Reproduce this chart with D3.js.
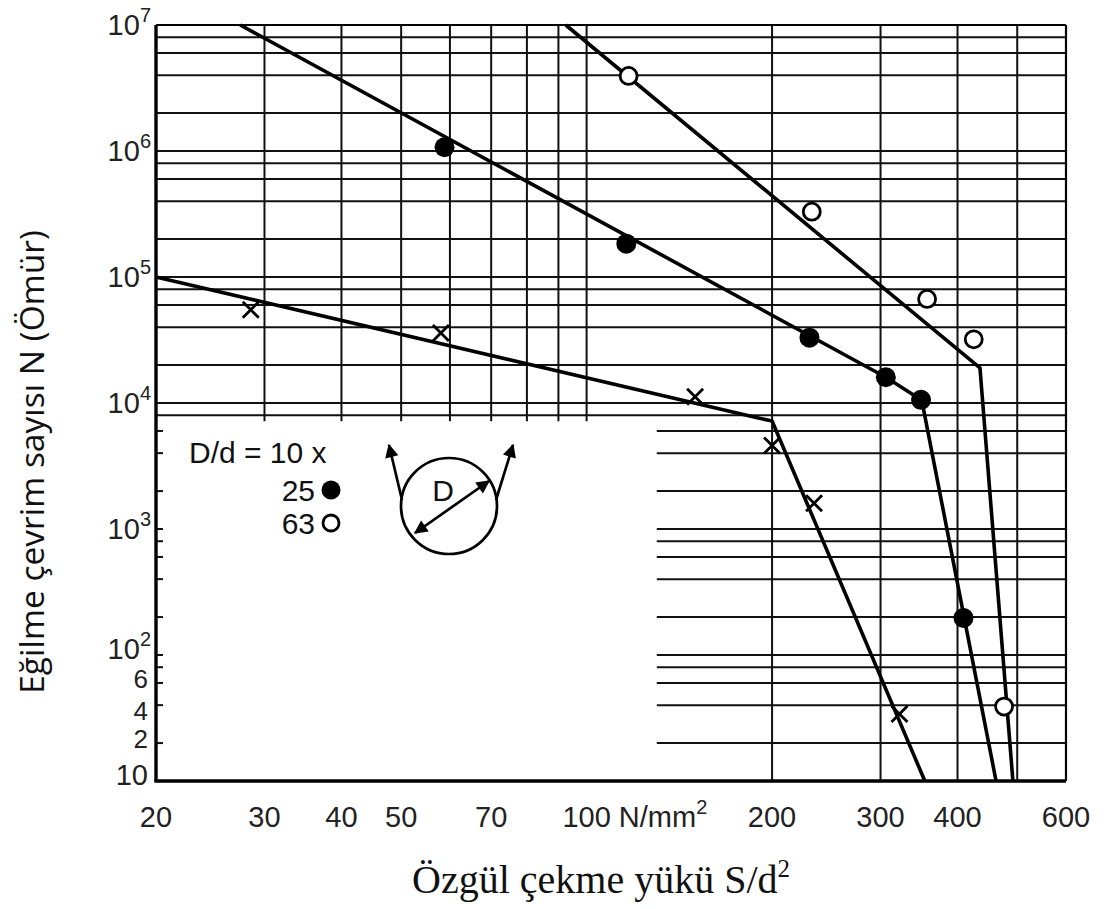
<!DOCTYPE html>
<html>
<head>
<meta charset="utf-8">
<script src="https://cdn.jsdelivr.net/npm/d3@7"></script>
<style>
  body { margin: 0; background: #fff; }
</style>
</head>
<body>
<div id="chart"></div>
<script>
// points: [S/d² (N/mm²), N]
const pointsD10 = [[28.5, 5.5e4], [58, 3.6e4], [150, 1.12e4], [200, 4.6e3], [234, 1.6e3], [322, 34]];
const lineD10 = [[20, 1e5], [190, 7.6e3], [200, 7.2e3], [354, 10]];
const pointsD25 = [[58.8, 1.07e6], [116, 1.84e5], [230, 3.3e4], [306, 1.6e4], [349, 1.06e4], [409, 197]];
const lineD25 = [[27.4, 1e7], [306, 1.6e4], [350, 1.05e4], [462, 10]];
const pointsD63 = [[117, 3.94e6], [232, 3.3e5], [357, 6.7e4], [425, 3.2e4], [476, 39]];
const lineD63 = [[92.5, 1e7], [435, 1.9e4], [492, 10]];

const xTicks = [20, 30, 40, 50, 70, 100, 200, 300, 400, 600];
const xGridTop = [30, 40, 50, 60, 70, 80, 90, 100];
const xGridFull = [200, 300, 400, 500];
const yDecades = [10, 1e2, 1e3, 1e4, 1e5, 1e6, 1e7];
const yMinor = [2, 4, 6, 8];
const yTickValues = [1e7, 1e6, 1e5, 1e4, 1e3, 1e2, 60, 40, 20, 10];
const yTickBase = ["10", "10", "10", "10", "10", "10", "6", "4", "2", "10"];
const yTickExp = ["7", "6", "5", "4", "3", "2", "", "", "", ""];
// the scan's labels sit a little off their grid lines at the bottom
const yTickNudge = [0, 0, 0, 0, 0, -6, -4, 5, -4, -6];

// legend box (no grid) in the lower left
const cutX = 130, cutY = 8e3;

const width = 1106, height = 909;
const x = d3.scaleLog([20, 600], [156, 1066]);
const y = d3.scaleLog([10, 1e7], [781, 25]);

const svg = d3.select("#chart").append("svg")
  .attr("width", width).attr("height", height)
  .style("background", "#fff");

const grid = svg.append("g").attr("stroke", "#111").attr("stroke-width", 2);

const yGrid = yDecades.flatMap((d) => [d, ...yMinor.map((m) => m * d)]).filter((v) => v <= 1e7);

grid.selectAll("line.h")
  .data(yGrid)
  .join("line")
  .attr("class", "h")
  .attr("x1", (d) => (d >= cutY ? x(20) : x(cutX)))
  .attr("x2", x(600))
  .attr("y1", (d) => y(d))
  .attr("y2", (d) => y(d));

grid.selectAll("line.vt")
  .data(xGridTop)
  .join("line")
  .attr("class", "vt")
  .attr("x1", (d) => x(d)).attr("x2", (d) => x(d))
  .attr("y1", y(1e7)).attr("y2", y(cutY) + 6);

grid.selectAll("line.vf")
  .data(xGridFull)
  .join("line")
  .attr("class", "vf")
  .attr("x1", (d) => x(d)).attr("x2", (d) => x(d))
  .attr("y1", y(1e7)).attr("y2", y(10));

// small ticks on the left axis where the grid is missing
grid.selectAll("line.tk")
  .data(yGrid.filter((d) => d < cutY && d > 10))
  .join("line")
  .attr("class", "tk")
  .attr("x1", x(20)).attr("x2", x(20) + 7)
  .attr("y1", (d) => y(d)).attr("y2", (d) => y(d));

// frame
const frame = svg.append("g").attr("stroke", "#000");
frame.append("line").attr("x1", x(20)).attr("x2", x(600)).attr("y1", y(1e7)).attr("y2", y(1e7)).attr("stroke-width", 2);
frame.append("line").attr("x1", x(600)).attr("x2", x(600)).attr("y1", y(1e7)).attr("y2", y(10)).attr("stroke-width", 2.2);
frame.append("line").attr("x1", x(20)).attr("x2", x(20)).attr("y1", y(1e7)).attr("y2", y(10)).attr("stroke-width", 3.4);
frame.append("line").attr("x1", x(20) - 1.7).attr("x2", x(600)).attr("y1", y(10)).attr("y2", y(10)).attr("stroke-width", 3.4);

// curves
const line = d3.line().x((d) => x(d[0])).y((d) => y(d[1]));
svg.append("g")
  .attr("fill", "none")
  .attr("stroke", "#000")
  .attr("stroke-width", 3.6)
  .attr("stroke-linejoin", "round")
  .selectAll("path")
  .data([lineD10, lineD25, lineD63])
  .join("path")
  .attr("d", line);

// markers
svg.append("g")
  .selectAll("path")
  .data(pointsD10)
  .join("path")
  .attr("transform", (d) => `translate(${x(d[0])},${y(d[1])})`)
  .attr("d", "M-8,-8L8,8M-8,8L8,-8")
  .attr("stroke", "#000")
  .attr("stroke-width", 2.8)
  .attr("fill", "none");

svg.append("g")
  .selectAll("circle")
  .data(pointsD25)
  .join("circle")
  .attr("cx", (d) => x(d[0]))
  .attr("cy", (d) => y(d[1]))
  .attr("r", 10)
  .attr("fill", "#000");

svg.append("g")
  .selectAll("circle")
  .data(pointsD63)
  .join("circle")
  .attr("cx", (d) => x(d[0]))
  .attr("cy", (d) => y(d[1]))
  .attr("r", 8.5)
  .attr("fill", "#fff")
  .attr("stroke", "#000")
  .attr("stroke-width", 2.8);

// x tick labels
const tickFont = "'Liberation Sans', Arial, sans-serif";
const xLab = svg.append("g")
  .attr("font-family", tickFont)
  .attr("font-size", 29)
  .attr("fill", "#222")
  .attr("text-anchor", "middle");

xLab.selectAll("text")
  .data(xTicks)
  .join("text")
  .attr("x", (d) => x(d))
  .attr("y", y(10) + 46)
  .text((d) => d);

const hundred = xLab.selectAll("text").filter((d) => d === 100).node();
const unit = xLab.append("text")
  .attr("text-anchor", "start")
  .attr("x", x(100) + hundred.getComputedTextLength() / 2 + 8)
  .attr("y", y(10) + 46);
unit.append("tspan").text("N/mm");
unit.append("tspan").attr("font-size", 20).attr("dy", -13).text("2");

// y tick labels
const yLab = svg.append("g")
  .attr("font-family", tickFont)
  .attr("fill", "#222")
  .attr("text-anchor", "end");

yTickValues.forEach((v, i) => {
  const t = yLab.append("text")
    .attr("x", yTickExp[i] ? 151 : 148)
    .attr("y", y(v) + yTickNudge[i])
    .attr("dy", "0.36em")
    .attr("font-size", yTickBase[i].length === 1 ? 26 : 29);
  t.append("tspan").text(yTickBase[i]);
  if (yTickExp[i]) {
    t.append("tspan").attr("font-size", 20).attr("dy", -13).text(yTickExp[i]);
  }
});

// axis titles
svg.append("text")
  .attr("transform", "translate(44,462) rotate(-90)")
  .attr("text-anchor", "middle")
  .attr("font-family", "'Open Sans', 'Noto Sans', sans-serif")
  .attr("font-size", 33.5)
  .attr("fill", "#111")
  .text("Eğilme çevrim sayısı N (Ömür)");

const xTitle = svg.append("text")
  .attr("x", 601)
  .attr("y", 893)
  .attr("text-anchor", "middle")
  .attr("font-family", "'Liberation Serif', 'Times New Roman', serif")
  .attr("font-size", 40)
  .attr("fill", "#111");
xTitle.append("tspan").text("Özgül çekme yükü S/d");
xTitle.append("tspan").attr("font-size", 25).attr("dy", -16).text("2");

// legend
const leg = svg.append("g")
  .attr("font-family", tickFont)
  .attr("font-size", 30)
  .attr("fill", "#111");

leg.append("text").attr("x", 189).attr("y", 463).text("D/d = 10 x");
leg.append("text").attr("x", 315).attr("y", 501).attr("text-anchor", "end").text("25");
leg.append("text").attr("x", 315).attr("y", 534).attr("text-anchor", "end").text("63");
leg.append("circle").attr("cx", 331).attr("cy", 490).attr("r", 9.5).attr("fill", "#000");
leg.append("circle").attr("cx", 331).attr("cy", 523).attr("r", 8)
  .attr("fill", "#fff").attr("stroke", "#000").attr("stroke-width", 2.8);

// sheave sketch
const defs = svg.append("defs");
defs.append("marker")
  .attr("id", "arr")
  .attr("viewBox", "0 0 10 10")
  .attr("refX", 9).attr("refY", 5)
  .attr("markerWidth", 6.5).attr("markerHeight", 5)
  .attr("markerUnits", "strokeWidth")
  .attr("orient", "auto-start-reverse")
  .append("path")
  .attr("d", "M0,0L10,5L0,10Z")
  .attr("fill", "#000");

const sk = svg.append("g").attr("stroke", "#000").attr("stroke-width", 2.7).attr("fill", "none");
sk.append("circle").attr("cx", 449).attr("cy", 506).attr("r", 48);
sk.append("line").attr("x1", 402).attr("y1", 500).attr("x2", 389).attr("y2", 445).attr("marker-end", "url(#arr)");
sk.append("line").attr("x1", 496).attr("y1", 500).attr("x2", 513).attr("y2", 445).attr("marker-end", "url(#arr)");
sk.append("line").attr("x1", 415).attr("y1", 533).attr("x2", 489).attr("y2", 481)
  .attr("marker-start", "url(#arr)").attr("marker-end", "url(#arr)");
leg.append("text").attr("x", 443).attr("y", 501).attr("text-anchor", "middle").text("D");
</script>
</body>
</html>
